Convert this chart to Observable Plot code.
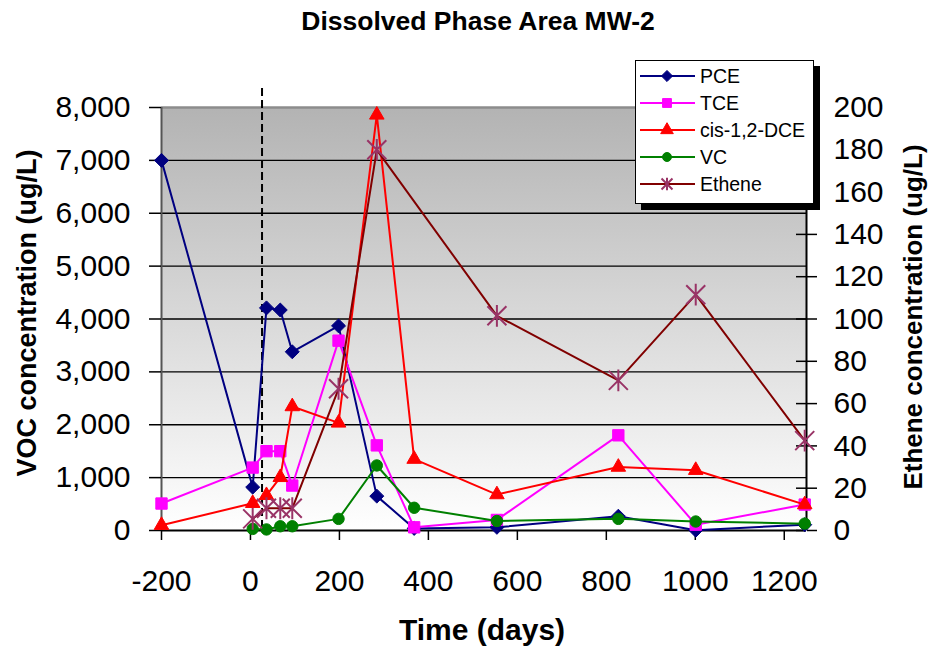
<!DOCTYPE html>
<html>
<head>
<meta charset="utf-8">
<script src="https://cdn.jsdelivr.net/npm/d3@7"></script>
<script src="https://cdn.jsdelivr.net/npm/@observablehq/plot@0.6"></script>
<style>
  body { margin: 0; background: #fff; font-family: "Liberation Sans", Arial, sans-serif; }
  #wrap { position: relative; width: 930px; height: 654px; overflow: hidden; }
  #legend { position: absolute; left: 635px; top: 60px; width: 177px; height: 142px;
            border: 1px solid #000; background: #fff; box-shadow: 6px 6px 0 #000; overflow: hidden; }
  #legend svg { display: block; }
</style>
</head>
<body>
<div id="wrap"><div id="chart"></div><div id="legend"></div></div>
<script>
// ---- data ----
const title = "Dissolved Phase Area MW-2";
const xTitle = "Time (days)";
const yTitle = "VOC concentration (ug/L)";
const y2Title = "Ethene concentration (ug/L)";

const days   = [-200, 5, 36, 67, 94, 198, 284, 368, 554, 827, 1001, 1246];
const pce    = [7000, 820, 4210, 4170, 3380, 3870, 650, 40, 60, 270, 5, 110];
const tce    = [510, 1190, 1500, 1500, 850, 3590, 1610, 60, 200, 1800, 110, 490];
const dce    = [100, 515, 665, 1005, 2345, 2035, 7860, 1350, 680, 1200, 1140, 490];
const vc     = [null, 30, 20, 80, 80, 220, 1230, 430, 180, 220, 170, 130];

const ethDays = [5, 36, 67, 94, 198, 284, 554, 827, 1001, 1246];
const ethene  = [5.5, 10.5, 10.5, 10.5, 67, 180, 101.5, 71, 111.5, 42.5];

const treatmentDay = 26;

const xTicks  = [-200, 0, 200, 400, 600, 800, 1000, 1200];
const yTicks  = [0, 1000, 2000, 3000, 4000, 5000, 6000, 7000, 8000];
const y2Ticks = [0, 20, 40, 60, 80, 100, 120, 140, 160, 180, 200];
const y2Factor = 8000 / 200; // secondary axis 0-200 maps onto primary 0-8000

const seriesNames = ["PCE", "TCE", "cis-1,2-DCE", "VC", "Ethene"];
const lineColors   = ["#000080", "#ff00ff", "#ff0000", "#008000", "#800000"];
const markerColors = ["#000080", "#ff00ff", "#ff0000", "#008000", "#993366"];

// ---- build ----
const toRows = (xs, vs, scale = 1) =>
  xs.map((d, i) => ({day: d, v: vs[i] == null ? null : vs[i] * scale})).filter(r => r.v != null);

const excelStar = {
  draw(ctx, size) {
    const r = Math.sqrt(size / Math.PI);
    ctx.moveTo(-r, -r); ctx.lineTo(r, r);
    ctx.moveTo(-r, r);  ctx.lineTo(r, -r);
    ctx.moveTo(0, -r * 1.15); ctx.lineTo(0, r * 1.15);
  }
};

const series = [
  {data: toRows(days, pce), symbol: "diamond2", r: 6.3},
  {data: toRows(days, tce), symbol: "square", r: 6.4},
  {data: toRows(days, dce), symbol: "triangle", r: 5.4},
  {data: toRows(days, vc), symbol: "circle", r: 5.7},
  {data: toRows(ethDays, ethene, y2Factor), symbol: excelStar, r: 9.5}
];

const seriesMarks = series.flatMap((s, i) => {
  const star = s.symbol === excelStar;
  return [
    Plot.line(s.data, {x: "day", y: "v", stroke: lineColors[i], strokeWidth: 2}),
    Plot.dot(s.data, {x: "day", y: "v", symbol: s.symbol, r: s.r,
      fill: star ? "none" : markerColors[i], stroke: markerColors[i], strokeWidth: star ? 2 : 1})
  ];
});

const font = "Liberation Sans, Arial, sans-serif";

const svg = Plot.plot({
  width: 930, height: 654,
  marginLeft: 161, marginRight: 124, marginTop: 107, marginBottom: 124,
  x: {domain: [-200, 1250]},
  y: {domain: [0, 8000]},
  style: {fontFamily: font, background: "white", color: "black"},
  marks: [
    Plot.frame({fill: "url(#bgGrad)", stroke: null}),
    Plot.ruleY(yTicks.filter(v => v > 0 && v < 8000), {stroke: "#000", strokeWidth: 1.3}),
    Plot.ruleY([8000], {stroke: "#8c8c8c", strokeWidth: 2.5}),
    Plot.ruleX([-200], {stroke: "#555", strokeWidth: 2}),
    Plot.ruleX([1250], {stroke: "#000", strokeWidth: 2}),
    Plot.ruleY([0], {stroke: "#000", strokeWidth: 2}),
    Plot.tickY(y2Ticks, {y: d => d * y2Factor, insetLeft: 635, stroke: "#000", strokeWidth: 1.5}),
    Plot.ruleX([treatmentDay], {insetTop: -19, stroke: "#000", strokeWidth: 2, strokeDasharray: "8,4"}),
    Plot.axisX({ticks: xTicks, tickFormat: d => String(d), tickSize: 10, tickPadding: 29,
      fontSize: 30, label: null, strokeWidth: 1.5}),
    Plot.axisY({ticks: yTicks, tickFormat: d3.format(","), tickSize: 12, tickPadding: 19,
      fontSize: 30, label: null, strokeWidth: 1.5}),
    Plot.axisY({anchor: "right", ticks: y2Ticks.map(d => d * y2Factor),
      tickFormat: d => String(Math.round(d / y2Factor)), tickSize: 10, tickPadding: 17,
      fontSize: 30, label: null, strokeWidth: 1.5}),
    ...seriesMarks,
    Plot.text([title], {text: d => d, frameAnchor: "top", dx: -6, dy: -86, fontSize: 26.5,
      fontWeight: "bold", textAnchor: "middle", lineAnchor: "middle"}),
    Plot.text([xTitle], {text: d => d, frameAnchor: "bottom", dx: -2, dy: 100, fontSize: 30,
      fontWeight: "bold", textAnchor: "middle", lineAnchor: "middle"}),
    Plot.text([yTitle], {text: d => d, frameAnchor: "left", dx: -134, dy: -6, rotate: -90,
      fontSize: 27, fontWeight: "bold", textAnchor: "middle", lineAnchor: "middle"}),
    Plot.text([y2Title], {text: d => d, frameAnchor: "right", dx: 107, dy: -2, rotate: -90,
      fontSize: 26, fontWeight: "bold", textAnchor: "middle", lineAnchor: "middle"})
  ]
});

const ns = "http://www.w3.org/2000/svg";
const defs = document.createElementNS(ns, "defs");
defs.innerHTML = '<linearGradient id="bgGrad" x1="0" y1="0" x2="0" y2="1">' +
  '<stop offset="0" stop-color="#b3b3b3"/><stop offset="1" stop-color="#ffffff"/></linearGradient>';
svg.insertBefore(defs, svg.firstChild);
document.getElementById("chart").appendChild(svg);

// ---- legend ----
const lsvg = d3.select("#legend").append("svg").attr("width", 177).attr("height", 142);
const legendSymbols = [d3.symbolDiamond2, d3.symbolSquare, d3.symbolTriangle, d3.symbolCircle, excelStar];
const legendSizes = [Math.PI * 25, Math.PI * 25, Math.PI * 22, Math.PI * 20, Math.PI * 30];
seriesNames.forEach((name, i) => {
  const y = 15 + i * 27;
  const g = lsvg.append("g").attr("transform", `translate(0,${y})`);
  g.append("line").attr("x1", 4).attr("x2", 59).attr("stroke", lineColors[i]).attr("stroke-width", 2);
  const isStar = i === 4;
  g.append("path").attr("transform", "translate(31,0)")
    .attr("d", d3.symbol(legendSymbols[i], legendSizes[i])())
    .attr("fill", isStar ? "none" : markerColors[i])
    .attr("stroke", markerColors[i]).attr("stroke-width", isStar ? 2 : 1);
  g.append("text").attr("x", 64).attr("dy", "0.35em").attr("font-size", 19.5)
    .attr("font-family", font).attr("fill", "#000").text(name);
});
</script>
</body>
</html>
